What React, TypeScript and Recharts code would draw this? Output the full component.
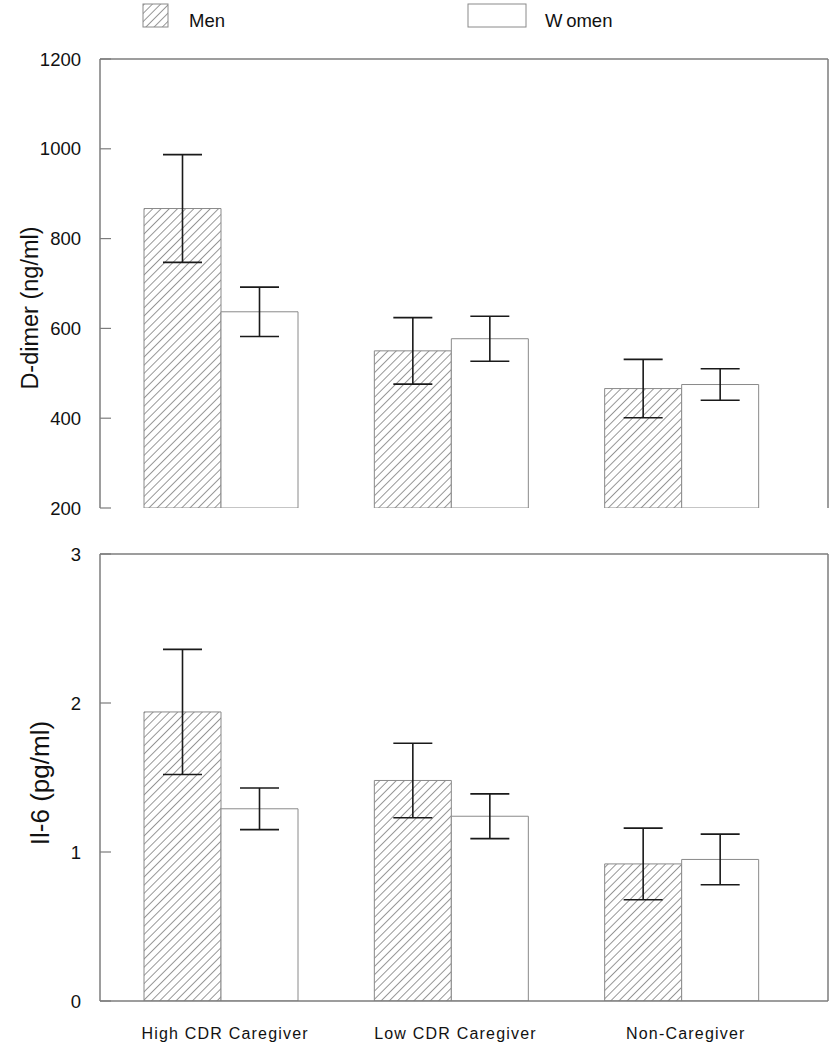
import React from "react";
import { BarChart, Bar, XAxis, YAxis, ErrorBar, CartesianGrid } from "recharts";

const categories = ["High CDR Caregiver", "Low CDR Caregiver", "Non-Caregiver"];

const ddimerMen = [867, 550, 466];
const ddimerMenErr = [120, 74, 65];
const ddimerWomen = [637, 577, 475];
const ddimerWomenErr = [55, 50, 35];
const ddimerTicks = [200, 400, 600, 800, 1000, 1200];

const il6Men = [1.94, 1.48, 0.92];
const il6MenErr = [0.42, 0.25, 0.24];
const il6Women = [1.29, 1.24, 0.95];
const il6WomenErr = [0.14, 0.15, 0.17];
const il6Ticks = [0, 1, 2, 3];

const ddimerData = categories.map((c, i) => ({
  name: c,
  men: ddimerMen[i],
  menErr: ddimerMenErr[i],
  women: ddimerWomen[i],
  womenErr: ddimerWomenErr[i],
}));

const il6Data = categories.map((c, i) => ({
  name: c,
  men: il6Men[i],
  menErr: il6MenErr[i],
  women: il6Women[i],
  womenErr: il6WomenErr[i],
}));

const FONT = "'Liberation Sans', Arial, sans-serif";
const FRAME = "#7c7c7c";
const BAR_STROKE = "#8a8a8a";
const ERR = "#1a1a1a";
const TICK_LEN = 11;

const Hatch = ({ id }: { id: string }) => (
  <defs>
    <pattern
      id={id}
      patternUnits="userSpaceOnUse"
      width={5.8}
      height={5.8}
      patternTransform="rotate(45)"
    >
      <rect width={5.8} height={5.8} fill="#fff" />
      <line x1={0} y1={0} x2={0} y2={5.8} stroke="#444" strokeWidth={1.1} />
    </pattern>
  </defs>
);

const innerTick = (props: any) => {
  const { x1, y1, key } = props;
  return (
    <path
      key={key}
      d={`M${x1},${y1}H${Number(x1) + TICK_LEN}`}
      stroke={FRAME}
      strokeWidth={1.2}
      fill="none"
    />
  );
};

type PanelProps = {
  data: any[];
  domain: [number, number];
  ticks: number[];
  patternId: string;
  height: number;
  margin: { top: number; right: number; bottom: number; left: number };
  showCategories: boolean;
};

const Panel = ({ data, domain, ticks, patternId, height, margin, showCategories }: PanelProps) => (
  <BarChart width={838} height={height} data={data} margin={margin} barGap={0} barSize={77}>
    <Hatch id={patternId} />
    <CartesianGrid
      stroke={FRAME}
      strokeWidth={1.5}
      horizontalCoordinatesGenerator={({ offset }: any) => [offset.top]}
      verticalCoordinatesGenerator={({ offset }: any) => [offset.left + offset.width]}
    />
    <CartesianGrid vertical={false} horizontal={innerTick} />
    <XAxis
      dataKey="name"
      padding={{ left: 6, right: 31 }}
      axisLine={{ stroke: FRAME, strokeWidth: 1.5 }}
      tickLine={false}
      tick={showCategories ? { fontSize: 16, fill: "#111", fontFamily: FONT, letterSpacing: 1.2, dx: 4 } : false}
      tickSize={0}
      tickMargin={27}
      height={showCategories ? 40 : 0}
      interval={0}
    />
    <YAxis
      domain={domain}
      ticks={ticks}
      allowDataOverflow
      width={60}
      axisLine={{ stroke: FRAME, strokeWidth: 1.5 }}
      tickLine={false}
      tickSize={0}
      tickMargin={19}
      tick={{ fontSize: 18.5, fill: "#111", fontFamily: FONT }}
      interval={0}
    />
    <Bar dataKey="men" fill={`url(#${patternId})`} stroke={BAR_STROKE} strokeWidth={1} isAnimationActive={false}>
      <ErrorBar dataKey="menErr" width={19.5} stroke={ERR} strokeWidth={1.6} />
    </Bar>
    <Bar dataKey="women" fill="#ffffff" stroke={BAR_STROKE} strokeWidth={1} isAnimationActive={false}>
      <ErrorBar dataKey="womenErr" width={19.5} stroke={ERR} strokeWidth={1.6} />
    </Bar>
  </BarChart>
);

export default function App() {
  return (
    <div style={{ position: "absolute", left: 0, top: 0, width: 838, height: 1050, background: "#fff" }}>
      <div style={{ position: "absolute", left: 0, top: 0 }}>
        <Panel
          data={ddimerData}
          domain={[200, 1200]}
          ticks={ddimerTicks}
          patternId="hatchTop"
          height={520}
          margin={{ top: 59, right: 10, bottom: 12, left: 40 }}
          showCategories={false}
        />
      </div>
      <div style={{ position: "absolute", left: 0, top: 520 }}>
        <Panel
          data={il6Data}
          domain={[0, 3]}
          ticks={il6Ticks}
          patternId="hatchBottom"
          height={530}
          margin={{ top: 34, right: 10, bottom: 9, left: 40 }}
          showCategories={true}
        />
      </div>
      <svg
        width={838}
        height={1050}
        style={{ position: "absolute", left: 0, top: 0, pointerEvents: "none" }}
      >
        <Hatch id="hatchLegend" />
        <rect x={143} y={4} width={25} height={23} fill="url(#hatchLegend)" stroke={BAR_STROKE} strokeWidth={1} />
        <text x={189} y={27} fontSize={18.5} fontFamily={FONT} fill="#111">Men</text>
        <rect x={468} y={4} width={58} height={23} fill="#fff" stroke={BAR_STROKE} strokeWidth={1} />
        <text x={545} y={27} fontSize={18.5} fontFamily={FONT} fill="#111">
          <tspan>W</tspan>
          <tspan dx={4}>omen</tspan>
        </text>
        <text
          x={0}
          y={0}
          fontSize={23.5}
          fontFamily={FONT}
          fill="#111"
          textAnchor="middle"
          transform="translate(38 308) rotate(-90)"
        >
          D-dimer (ng/ml)
        </text>
        <text
          x={0}
          y={0}
          fontSize={26}
          fontFamily={FONT}
          fill="#111"
          textAnchor="middle"
          transform="translate(49 783) rotate(-90)"
        >
          Il-6 (pg/ml)
        </text>
      </svg>
    </div>
  );
}
